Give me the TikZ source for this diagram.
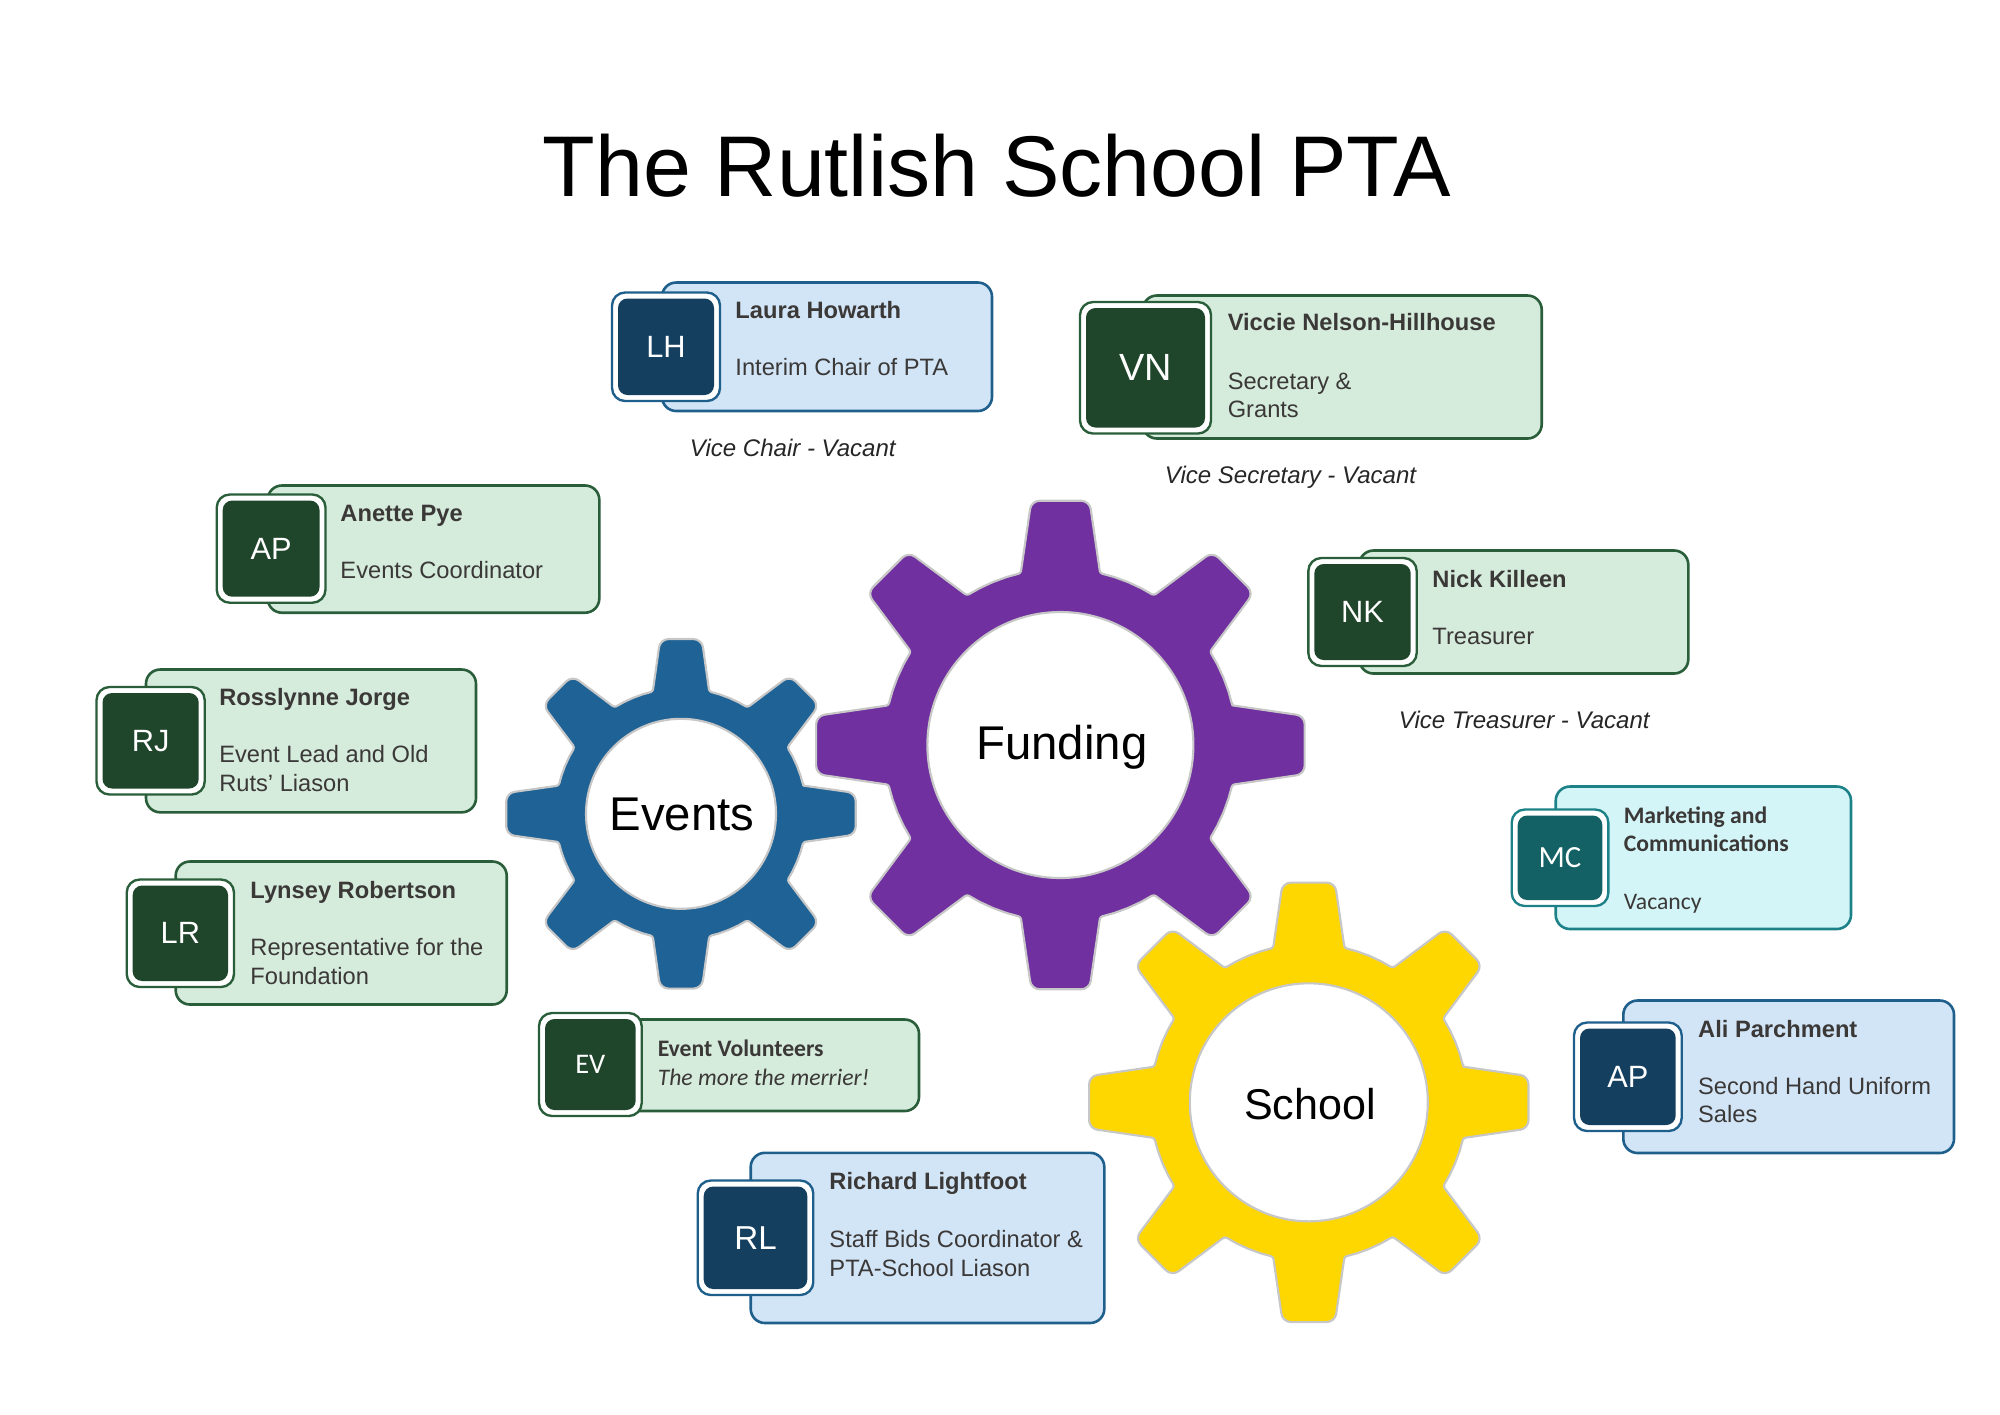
\documentclass[tikz,border=0pt]{standalone}
\usepackage{fontspec}
\setmainfont{Liberation Sans}
\newfontfamily\carlito{Carlito}
\usepackage{xcolor}
\usetikzlibrary{calc}

\definecolor{cardblue}{HTML}{D2E5F6}
\definecolor{lineblue}{HTML}{1F5F8B}
\definecolor{darkblue}{HTML}{153F5F}
\definecolor{cardgreen}{HTML}{D5EBDB}
\definecolor{linegreen}{HTML}{2A5E3A}
\definecolor{darkgreen}{HTML}{1F452A}
\definecolor{cardteal}{HTML}{D3F5F7}
\definecolor{lineteal}{HTML}{1C8288}
\definecolor{darkteal}{HTML}{146165}
\definecolor{cogpurple}{HTML}{7030A0}
\definecolor{cogblue}{HTML}{1F6396}
\definecolor{cogyellow}{HTML}{FFD700}
\definecolor{inktext}{HTML}{3B3838}

\tikzset{
    cogline/.style={draw=black!22, line width=0.9pt, line join=round},
    namelabel/.style={anchor=base west, inner sep=0pt, text=inktext, font=\fontsize{10}{12}\selectfont\bfseries},
    rolelabel/.style={anchor=base west, inner sep=0pt, text=inktext, align=left, font=\fontsize{10}{12}\selectfont},
    vacantlabel/.style={anchor=base west, inner sep=0pt, text=black!85, font=\fontsize{10.15}{12}\selectfont\itshape},
    initials/.style={inner sep=0pt, text=white},
}

% #1 centre x, #2 centre y, #3 tip radius, #4 root radius, #5 hole radius, #6 colour
\newcommand{\cog}[6]{
    \begin{scope}[shift={(#1,#2)}]
        \draw [cogline, fill=#6] (-13:#4)
            \foreach \a in {0,45,...,315} {
                [rounded corners=3.5pt] -- ({\a-6.8}:#3) -- ({\a+6.8}:#3) [rounded corners=1pt] -- ({\a+13}:#4)
                [sharp corners] -- ({\a+17.75}:#4) -- ({\a+22.5}:#4) -- ({\a+27.25}:#4) [rounded corners=1pt] -- ({\a+32}:#4)
            } -- cycle;
        \draw [cogline, fill=white] (0,0) circle [radius=#5];
    \end{scope}
}

% #1 palette, #2 #3 card corners, #4 #5 badge corners, #6 node name, #7 initials, #8 size
\newcommand{\person}[8]{
    \draw [fill=card#1, draw=line#1, line width=1.1pt, rounded corners=6pt] (#2) rectangle (#3);
    \draw [fill=white, draw=line#1, line width=1pt, rounded corners=5.5pt] (#4) rectangle (#5);
    \fill [fill=dark#1, rounded corners=4pt] ($(#4)+(6,6)$) rectangle ($(#5)+(-6,-6)$);
    \node [initials, font=\fontsize{#8}{#8}\selectfont] (#6) at ($(#4)!0.5!(#5)$) {#7};
}

\begin{document}
\begin{tikzpicture}[x=0.01485cm, y=-0.01485cm]
    \useasboundingbox (0,0) rectangle (2000,1414);

    % Title
    \node [anchor=base west, inner sep=0pt, font=\fontsize{36.4}{40}\selectfont] (title) at (542,196) {The Rutlish School PTA};

    % Gears
    \cog{681}{813.8}{176}{125.5}{95}{cogblue}
    \cog{1060.4}{745}{246}{176.4}{133}{cogpurple}
    \cog{1308.8}{1102.3}{221.3}{158.5}{119}{cogyellow}
    \node [anchor=base, inner sep=0pt, font=\fontsize{20}{22}\selectfont] (events) at (682,830) {Events};
    \node [anchor=base, inner sep=0pt, font=\fontsize{20}{22}\selectfont] (funding) at (1061.8,759.5) {Funding};
    \node [anchor=base, inner sep=0pt, font=\fontsize{18.2}{20}\selectfont] (school) at (1310,1119) {School};

    % Chair
    \person{blue}{662,282.5}{992,411}{612,292.5}{720,401}{lh}{LH}{13}
    \node [namelabel] (lhname) at (735,318) {Laura Howarth};
    \node [rolelabel] (lhrole) at (735,375) {Interim Chair of PTA};
    \node [vacantlabel] (vicechair) at (689.5,456) {Vice Chair - Vacant};

    % Secretary
    \person{green}{1142.7,295.5}{1541.7,438.5}{1080,302}{1211,433.5}{vn}{VN}{16}
    \node [namelabel] (vnname) at (1227.3,330) {Viccie Nelson-Hillhouse};
    \node [rolelabel] (vnrole) at (1227.3,417.7) {Secretary \&\\Grants};
    \node [vacantlabel] (vicesec) at (1164.5,483) {Vice Secretary - Vacant};

    % Treasurer
    \person{green}{1359.3,550.5}{1688.3,673.5}{1308.3,558}{1416.7,666}{nk}{NK}{13}
    \node [namelabel] (nkname) at (1432,587.7) {Nick Killeen};
    \node [rolelabel] (nkrole) at (1432,644.5) {Treasurer};
    \node [vacantlabel] (vicetreas) at (1398.5,728.3) {Vice Treasurer - Vacant};

    % Events team
    \person{green}{267.7,485.5}{599.3,612.7}{216.7,494.5}{325.5,602.7}{ap}{AP}{13}
    \node [namelabel] (apname) at (340,521.7) {Anette Pye};
    \node [rolelabel] (aprole) at (340,578.7) {Events Coordinator};

    \person{green}{146,669.5}{476,812.3}{96.5,687}{204.7,794.5}{rj}{RJ}{13}
    \node [namelabel] (rjname) at (218.8,705) {Rosslynne Jorge};
    \node [rolelabel] (rjrole) at (218.8,791) {Event Lead and Old\\Ruts' Liason};

    \person{green}{175.7,861.5}{506.7,1004.5}{126.7,879.5}{234,987}{lr}{LR}{13}
    \node [namelabel] (lrname) at (250,898.3) {Lynsey Robertson};
    \node [rolelabel] (lrrole) at (250,984.3) {Representative for the\\Foundation};

    \person{green}{600,1019.5}{919,1111}{539,1013}{641.7,1116}{ev}{\carlito EV}{12}
    \node [namelabel, font=\carlito\fontsize{10}{12}\selectfont\bfseries] (evname) at (657.3,1056) {Event Volunteers};
    \node [rolelabel, font=\carlito\fontsize{10}{12}\selectfont\itshape] (evrole) at (657.3,1085) {The more the merrier!};

    % School team
    \person{teal}{1555.7,786.5}{1851,929}{1511.7,809.5}{1608.3,906}{mc}{\carlito MC}{13}
    \node [namelabel, align=left, font=\carlito\fontsize{10}{12}\selectfont\bfseries] (mcname) at (1623.3,851.7) {Marketing and\\Communications};
    \node [rolelabel, font=\carlito\fontsize{10}{12}\selectfont] (mcrole) at (1623.3,909.3) {Vacancy};

    \person{blue}{1623.3,1000.5}{1954,1153}{1574,1022.5}{1681.7,1131}{ali}{AP}{13}
    \node [namelabel] (aliname) at (1697.7,1037.7) {Ali Parchment};
    \node [rolelabel] (alirole) at (1697.7,1122.9) {Second Hand Uniform\\Sales};

    \person{blue}{750.7,1152.8}{1104.3,1323}{697.7,1180.5}{813.3,1295}{rl}{RL}{14}
    \node [namelabel] (rlname) at (829,1189.3) {Richard Lightfoot};
    \node [rolelabel] (rlrole) at (829,1276.3) {Staff Bids Coordinator \&\\PTA-School Liason};
\end{tikzpicture}
\end{document}
